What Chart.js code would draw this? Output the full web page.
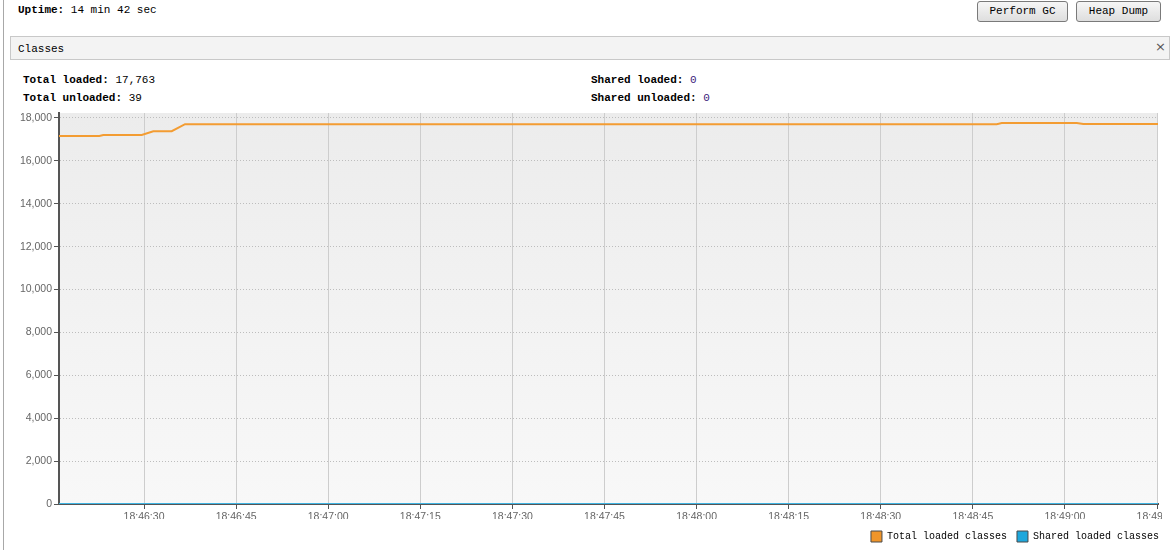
<!DOCTYPE html>
<html>
<head>
<meta charset="utf-8">
<script src="https://cdn.jsdelivr.net/npm/chart.js@4"></script>
<style>
  html, body { margin: 0; padding: 0; background: #fff; overflow: hidden; }
  body { width: 1173px; height: 550px; position: relative; font-family: "Liberation Mono", monospace; font-size: 11px; color: #000; }
  .abs { position: absolute; white-space: pre; line-height: 14px; }
  .b { font-weight: bold; }
  .vline { position: absolute; left: 3px; top: 0; width: 1px; height: 550px; background: #a8a8a8; }
  .btn { position: absolute; top: 1px; height: 19px; border: 1px solid #7a7a7a; border-radius: 3px;
         background: linear-gradient(#f6f6f6, #dedede); text-align: center; line-height: 19px; font-size: 11px; }
  .hdr { position: absolute; left: 10px; top: 36px; width: 1158px; height: 22px; border: 1px solid #c8c8c8; background: #f3f3f3; }
  #wrap { position: absolute; left: 0; top: 105px; width: 1162px; height: 445px; overflow: hidden; }
</style>
</head>
<body>
<div class="vline"></div>
<div class="abs" style="left:18px; top:3px;"><span class="b">Uptime:</span> 14 min 42 sec</div>
<div class="btn" style="left:977px; width:89px;">Perform GC</div>
<div class="btn" style="left:1076px; width:83px;">Heap Dump</div>
<div class="hdr"></div>
<div class="abs" style="left:18px; top:42px;">Classes</div>
<div class="abs" style="left:1155px; top:40px; font-family:'DejaVu Sans'; font-size:13px; color:#555;">×</div>
<div class="abs" style="left:23px; top:73px;"><span class="b">Total loaded:</span> 17,763</div>
<div class="abs" style="left:23px; top:91px;"><span class="b">Total unloaded:</span> 39</div>
<div class="abs" style="left:591px; top:73px;"><span class="b">Shared loaded:</span> <span style="color:#3a1a7a">0</span></div>
<div class="abs" style="left:591px; top:91px;"><span class="b">Shared unloaded:</span> <span style="color:#3a1a7a">0</span></div>
<div id="wrap"><canvas id="c" width="1173" height="445"></canvas></div>
<script>
// ---- data ----
const seriesNames = ['Total loaded classes', 'Shared loaded classes'];
const totalTimes  = ['18:46:16.15','18:46:22.72','18:46:23.37','18:46:29.63','18:46:31.51','18:46:34.51','18:46:36.68','18:48:48.90','18:48:49.71','18:49:01.93','18:49:03.00','18:49:15.16'];
const totalValues = [17160, 17160, 17210, 17210, 17385, 17385, 17710, 17710, 17763, 17763, 17724, 17724];
const sharedTimes  = ['18:46:16.15', '18:49:15.16'];
const sharedValues = [0, 0];
const xTickLabels = ['18:46:30','18:46:45','18:47:00','18:47:15','18:47:30','18:47:45','18:48:00','18:48:15','18:48:30','18:48:45','18:49:00','18:49:15'];
const yTickValues = [0, 2000, 4000, 6000, 8000, 10000, 12000, 14000, 16000, 18000];
const xRange = ['18:46:16.15', '18:49:15.16'];
const yMax = 18233;
const seriesColors = ['#f39c32', '#3fb4e2'];
const legendColors = ['#f0952a', '#1ea7dc'];

const BASE = 18 * 3600 + 46 * 60;
function toSec(s) { const p = s.split(':'); return (+p[0]) * 3600 + (+p[1]) * 60 + parseFloat(p[2]) - BASE; }
const tickSecs = xTickLabels.map(toSec);

const bgPlugin = {
  id: 'bg',
  beforeDraw(chart) {
    const { ctx, chartArea: a } = chart;
    const g = ctx.createLinearGradient(0, a.top, 0, a.bottom);
    g.addColorStop(0, '#ececec');
    g.addColorStop(1, '#f8f8f8');
    ctx.save(); ctx.fillStyle = g; ctx.fillRect(a.left, a.top, a.right - a.left, a.bottom - a.top); ctx.restore();
  },
  afterLayout(chart) {
    if (chart.legend) {
      chart.legend.left += 11; chart.legend.right += 11;
      chart.legend.top += 2; chart.legend.bottom += 2;
    }
  }
};

new Chart(document.getElementById('c'), {
  type: 'line',
  data: {
    datasets: [
      { label: seriesNames[0], data: totalTimes.map((t, i) => ({ x: toSec(t), y: totalValues[i] })),
        borderColor: seriesColors[0], backgroundColor: legendColors[0], borderWidth: 2, pointRadius: 0, tension: 0 },
      { label: seriesNames[1], data: sharedTimes.map((t, i) => ({ x: toSec(t), y: sharedValues[i] })),
        borderColor: seriesColors[1], backgroundColor: legendColors[1], borderWidth: 2, pointRadius: 0, tension: 0 }
    ]
  },
  options: {
    responsive: false,
    animation: false,
    events: [],
    layout: { padding: { top: 8, right: 15, left: 0, bottom: 0 } },
    plugins: {
      tooltip: { enabled: false },
      legend: {
        position: 'bottom', align: 'end',
        labels: {
          boxWidth: 11, boxHeight: 11, padding: 10, color: '#111',
          font: { family: 'Liberation Mono', size: 10 },
          generateLabels(chart) {
            return chart.data.datasets.map((d, i) => ({
              text: d.label, fillStyle: legendColors[i], strokeStyle: '#4a4a4a', lineWidth: 1,
              hidden: false, datasetIndex: i
            }));
          }
        }
      }
    },
    scales: {
      x: {
        type: 'linear',
        min: toSec(xRange[0]), max: toSec(xRange[1]),
        afterBuildTicks(scale) { scale.ticks = tickSecs.map(v => ({ value: v })); },
        afterFit(scale) { scale.height = 15; scale.paddingLeft = 0; scale.paddingRight = 0; },
        ticks: {
          includeBounds: false, autoSkip: false, maxRotation: 0, padding: 2,
          color: '#666', font: { family: 'Liberation Sans', size: 10.5 },
          callback(v) { const i = tickSecs.findIndex(t => Math.abs(t - v) < 0.01); return i >= 0 ? xTickLabels[i] : ''; }
        },
        grid: { color: '#cdcdcd', lineWidth: 1, tickLength: 5, tickColor: '#555' },
        border: { color: '#555', width: 2 }
      },
      y: {
        min: 0, max: yMax,
        afterBuildTicks(scale) { scale.ticks = yTickValues.map(v => ({ value: v })); },
        afterFit(scale) { scale.width = 59; scale.paddingTop = 0; scale.paddingBottom = 0; },
        ticks: {
          padding: 2, color: '#666', font: { family: 'Liberation Sans', size: 10.5 },
          callback(v) { return v.toLocaleString('en-US'); }
        },
        grid: { color: '#bdbdbd', lineWidth: 1, tickLength: 5, tickColor: '#555', tickBorderDash: [] },
        border: { color: '#555', width: 2, dash: [1, 2] }
      }
    }
  },
  plugins: [bgPlugin]
});
</script>
</body>
</html>
